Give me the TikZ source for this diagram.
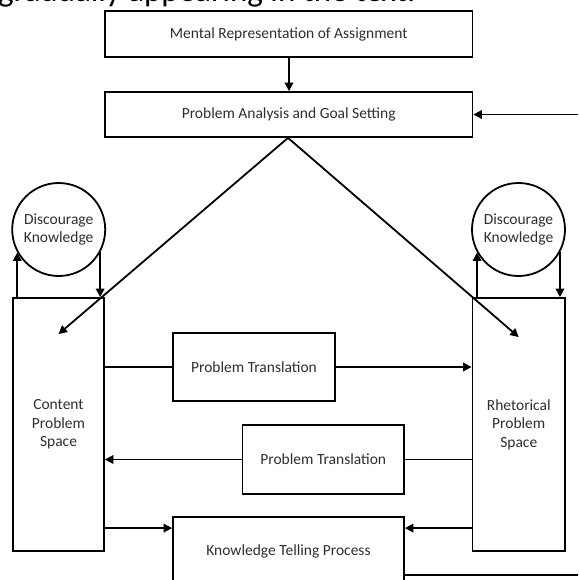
\documentclass[tikz,border=0pt]{standalone}
\usepackage{fontspec}
\setmainfont{Carlito}
\usetikzlibrary{arrows.meta,calc}
\begin{document}
\begin{tikzpicture}[x=1pt,y=-1pt,
  lbl/.style={text=black!82,font=\fontsize{15.5}{18.5}\selectfont,align=center},
  box/.style={draw,line width=1.8pt,lbl,inner sep=0pt},
  circ/.style={draw,circle,line width=1.8pt,lbl,inner sep=0pt,minimum size=93pt},
  conn/.style={line width=1.8pt},
  arr/.style={conn,-{Triangle[length=8.5pt,width=8.5pt]}}]
\path[use as bounding box] (0,0) rectangle (578,580);
\clip (0,0) rectangle (578,580);
\node[anchor=base west,inner sep=0pt,font=\fontsize{33}{38}\selectfont] (cap) at (-2,2) {gradually appearing in the text.};
\node[box,minimum width=367.5pt,minimum height=46pt] (mr) at (288.75,34) {Mental Representation of Assignment};
\node[box,minimum width=367.5pt,minimum height=45pt] (pa) at (288.75,114.5) {Problem Analysis and Goal Setting};
\node[box,minimum width=91pt,minimum height=253pt] (cps) at (58.5,424.5) {Content\\Problem\\Space};
\node[box,minimum width=92.5pt,minimum height=253pt] (rps) at (518.75,424.5) {Rhetorical\\Problem\\Space};
\node[circ] (dl) at (58.7,229.5) {Discourage\\Knowledge};
\node[circ] (dr) at (518.5,229.5) {Discourage\\Knowledge};
\node[box,minimum width=162pt,minimum height=68pt] (pt1) at (254,367) {Problem Translation};
\node[box,minimum width=161.5pt,minimum height=69pt] (pt2) at (323.25,459.5) {Problem Translation};
\node[box,minimum width=231pt,minimum height=68pt] (kt) at (288.5,551) {Knowledge Telling Process};
% top arrow
\draw[arr] (mr.south -| 289,0) -- (pa.north -| 289,0);
% diagonals
\draw[arr] (pa.south -| 288,0) -- ($(cps.north)+(0,37)$);
\draw[arr] (pa.south -| 288,0) -- ($(rps.north)+(0,40)$);
% discourage loops
\draw[arr] (dl.209 |- cps.north) -- (dl.209);
\draw[arr] (dl.-29) -- (dl.-29 |- cps.north);
\draw[arr] (dr.209 |- rps.north) -- (dr.209);
\draw[arr] (dr.-29) -- (dr.-29 |- rps.north);
% translations
\draw[conn] (pt1.west -| cps.east) -- (pt1.west);
\draw[arr] (pt1.east) -- (pt1.east -| rps.west);
\draw[conn] (pt2.east -| rps.west) -- (pt2.east);
\draw[arr] (pt2.west) -- (pt2.west -| cps.east);
% knowledge telling
\coordinate (kty) at ($(kt.north west)+(0,12)$);
\draw[arr] (kty -| cps.east) -- (kty);
\draw[arr] (kty -| rps.west) -- (kty -| kt.east);
\coordinate (ktfb) at ($(kt.south east)+(0,-11)$);
\draw[arr] (ktfb) -- ++(200,0) |- (pa.east);
\end{tikzpicture}
\end{document}
